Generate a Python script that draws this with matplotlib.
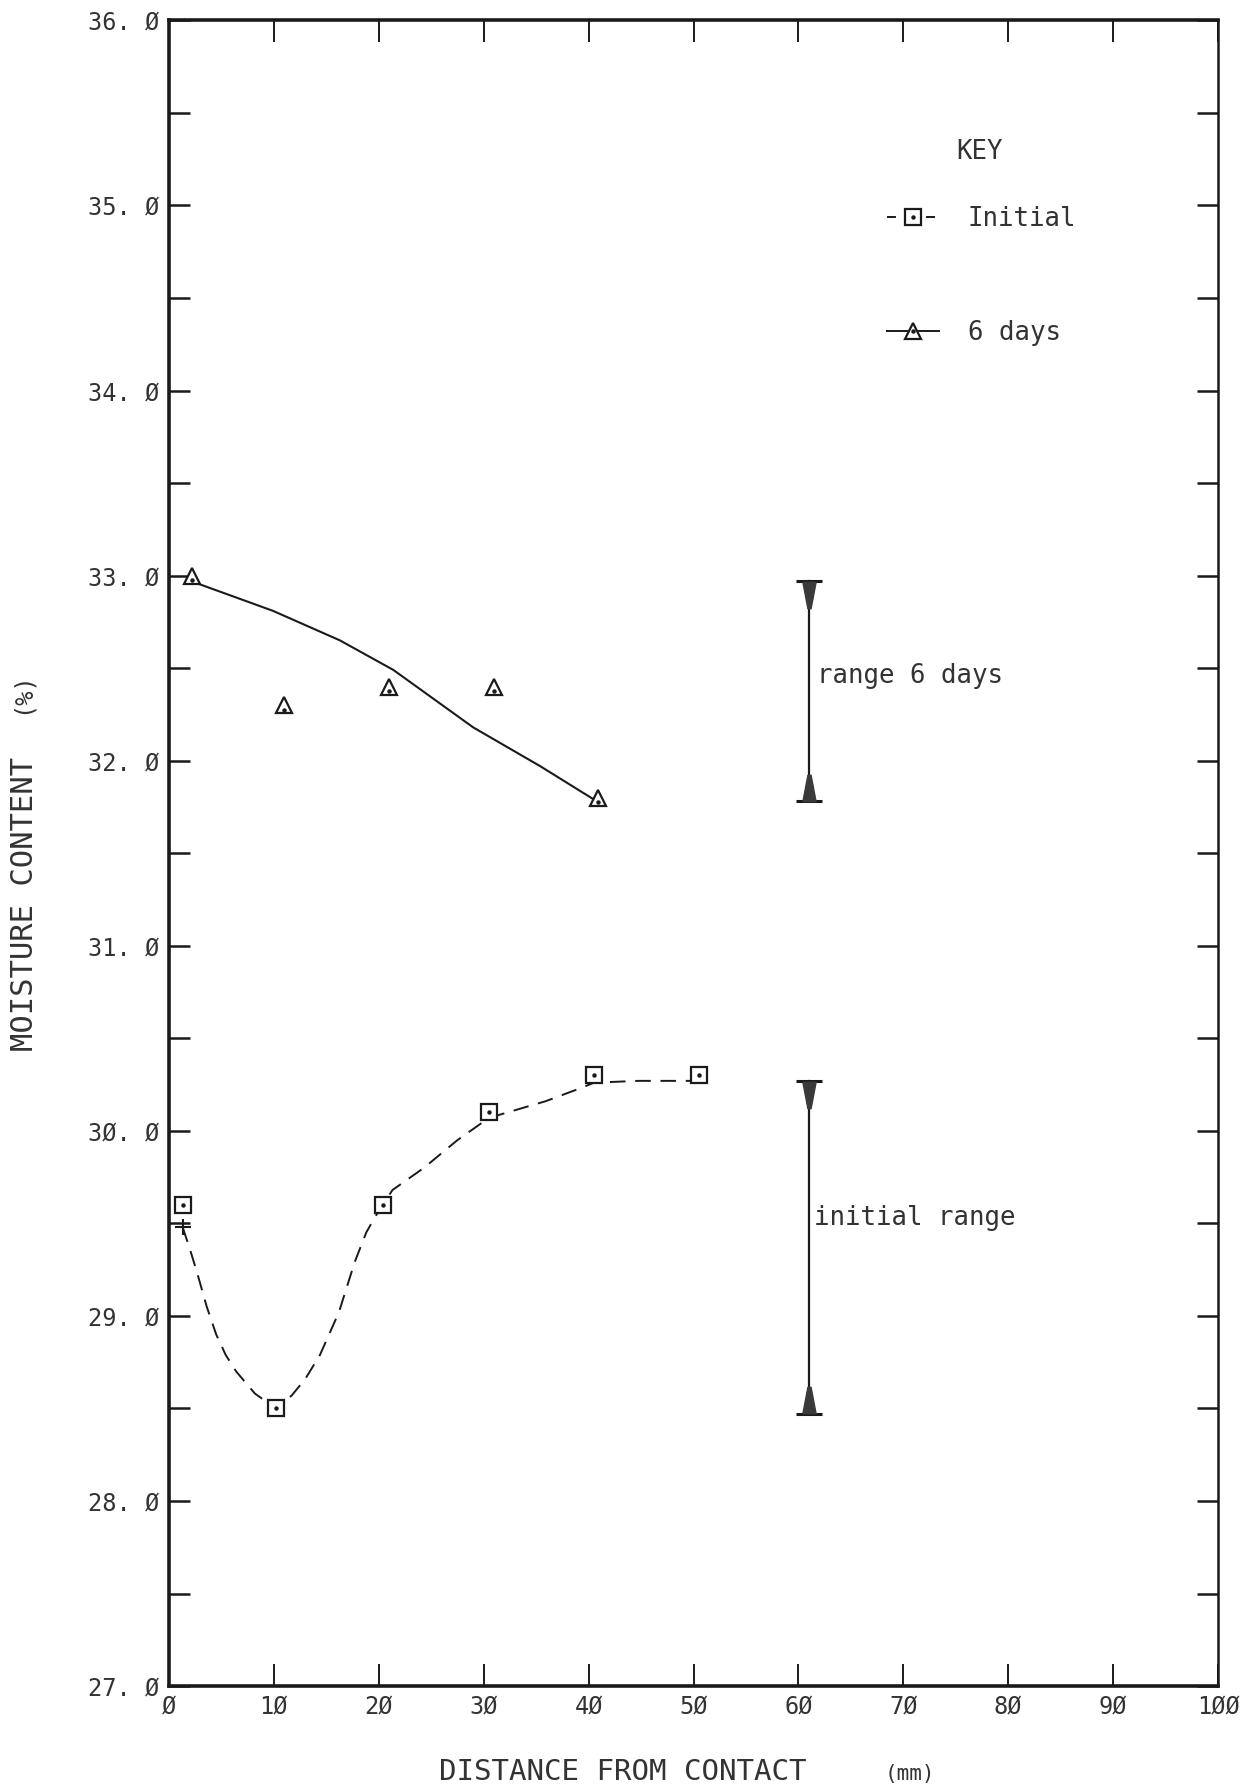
import matplotlib
matplotlib.use("Agg")
import matplotlib.pyplot as plt
from matplotlib.lines import Line2D
from matplotlib.path import Path

plt.rcParams['font.family'] = ['DejaVu Sans Mono', 'DejaVu Sans']

#+++++ data
init_x = [1.3, 10.2, 20.4, 30.5, 40.5, 50.5]
init_y = [29.6, 28.5, 29.6, 30.1, 30.3, 30.3]
days6_x = [2.2, 11.0, 21.0, 31.0, 40.9]
days6_y = [33.0, 32.3, 32.4, 32.4, 31.8]

# hand drawn curves, traced
init_fit_x = [1.3, 2.0, 2.7, 3.6, 4.5, 5.4, 6.4, 8.2, 10.2, 11.7, 13.0, 14.4,
              16.2, 17.7, 18.8, 19.7, 20.4, 21.3, 24.3, 27.5, 30.5, 32.3,
              35.9, 39.2, 40.5, 44.7, 50.5]
init_fit_y = [29.48, 29.36, 29.23, 29.05, 28.90, 28.79, 28.70, 28.58, 28.50,
              28.57, 28.66, 28.79, 29.02, 29.29, 29.45, 29.54, 29.60, 29.68,
              29.80, 29.95, 30.07, 30.10, 30.16, 30.23, 30.26, 30.27, 30.27]
days6_fit_x = [2.6, 9.9, 16.3, 21.4, 29.0, 35.4, 40.8]
days6_fit_y = [32.96, 32.81, 32.65, 32.49, 32.18, 31.97, 31.78]

range_x = 61.0
range6 = [32.97, 31.78]
range_init = [30.27, 28.47]

xticks = list(range(0, 101, 10))
yticks = [27, 28, 29, 30, 31, 32, 33, 34, 35, 36]
#-----


def zed(s):
    return s.replace("0", "Ø")


fig = plt.figure(figsize=(12.6, 17.91), dpi=100)
ax = fig.add_axes([0.1341, 0.0586, 0.8326, 0.9300])
ax.set_xlim(0, 100)
ax.set_ylim(27, 36)

k = "#1a1a1a"
txt = "#333333"
sq = dict(marker="s", ms=11, mfc="white", mec=k, mew=1.6, ls="none", zorder=4)
tri = dict(marker="^", ms=12, mfc="white", mec=k, mew=1.6, ls="none", zorder=4)
dot = dict(marker="o", ms=2.2, color=k, ls="none", zorder=5)

# curves
ax.plot(init_fit_x, init_fit_y, color=k, lw=1.4, dashes=(8, 5))
ax.plot(days6_fit_x, days6_fit_y, color=k, lw=1.5)
ax.plot(init_fit_x[0], init_fit_y[0], marker="+", ms=11, mew=1.5, color=k)

# points
ax.plot(init_x, init_y, **sq)
ax.plot(init_x, init_y, **dot)
ax.plot(days6_x, days6_y, **tri)
ax.plot(days6_x, [v - 0.025 for v in days6_y], **dot)

# range bars
down = Path([(-0.25, 0.5), (0.25, 0.5), (0.06, -0.5), (-0.06, -0.5), (-0.25, 0.5)],
            [1, 2, 2, 2, 79])
up = Path([(-0.25, -0.5), (0.25, -0.5), (0.06, 0.5), (-0.06, 0.5), (-0.25, -0.5)],
          [1, 2, 2, 2, 79])
for top, bot in (range6, range_init):
    ax.plot([range_x, range_x], [top, bot], color=k, lw=1.6)
    ax.plot([range_x, range_x], [top, bot], marker="_", ms=19, mew=2.2,
            color=k, ls="none")
    ax.plot(range_x, top - 0.075, marker=down, ms=19, color="#3a3a3a")
    ax.plot(range_x, bot + 0.075, marker=up, ms=19, color="#3a3a3a")

ax.text(range_x + 0.8, 32.46, "range 6 days", fontsize=18.5, va="center",
        ha="left", color=txt)
ax.text(range_x + 0.5, 29.53, "initial range", fontsize=18.5, va="center",
        ha="left", color=txt)

# key
ax.text(0.773, 0.921, "KEY", transform=ax.transAxes, fontsize=18.5,
        ha="center", va="center", color=txt)
h1 = Line2D([], [], color=k, lw=1.4, dashes=(4.6, 15.5), marker="s", ms=11,
            mfc="white", mec=k, mew=1.6)
h2 = Line2D([], [], color=k, lw=1.4, marker="^", ms=12, mfc="white", mec=k,
            mew=1.6)
hd = Line2D([], [], **dot)
leg = ax.legend([(h1, hd), (h2, hd)], ["Initial", "6 days"],
                loc="upper left", bbox_to_anchor=(0.672, 0.8965),
                frameon=False, fontsize=18.5,
                handlelength=2.05, handletextpad=1.1, labelspacing=3.45,
                borderpad=0)
for t in leg.get_texts():
    t.set_color(txt)

# axes cosmetics
ax.set_xticks(xticks)
ax.set_xticklabels([zed(str(v)) for v in xticks])
ax.set_yticks(yticks)
ax.set_yticklabels([zed(f"{v:.1f}").replace(".", ". ") for v in yticks])
ax.set_yticks([v + 0.5 for v in yticks[:-1]], minor=True)
ax.tick_params(axis="both", which="both", direction="in", colors=k,
               labelsize=17, labelcolor=txt)
ax.tick_params(axis="y", which="both", length=15, width=1.8, right=True)
ax.tick_params(axis="y", which="major", pad=7)
ax.tick_params(axis="x", which="major", length=16, width=1.4, top=True, pad=6)

for side in ("left", "bottom", "top"):
    ax.spines[side].set_linewidth(2.6)
ax.spines["right"].set_linewidth(1.8)
for s in ax.spines.values():
    s.set_color(k)

fig.text(0.494, 0.003, "DISTANCE FROM CONTACT", fontsize=21, ha="center",
         va="bottom", color=txt)
fig.text(0.722, 0.004, "(mm)", fontsize=15, ha="center", va="bottom",
         color=txt)
fig.text(0.008, 0.495, "MOISTURE CONTENT", fontsize=22, rotation=90,
         ha="left", va="center", color=txt)
fig.text(0.008, 0.613, "(%)", fontsize=17, rotation=90, ha="left",
         va="center", color=txt)

fig.savefig("out.png", dpi=100)
